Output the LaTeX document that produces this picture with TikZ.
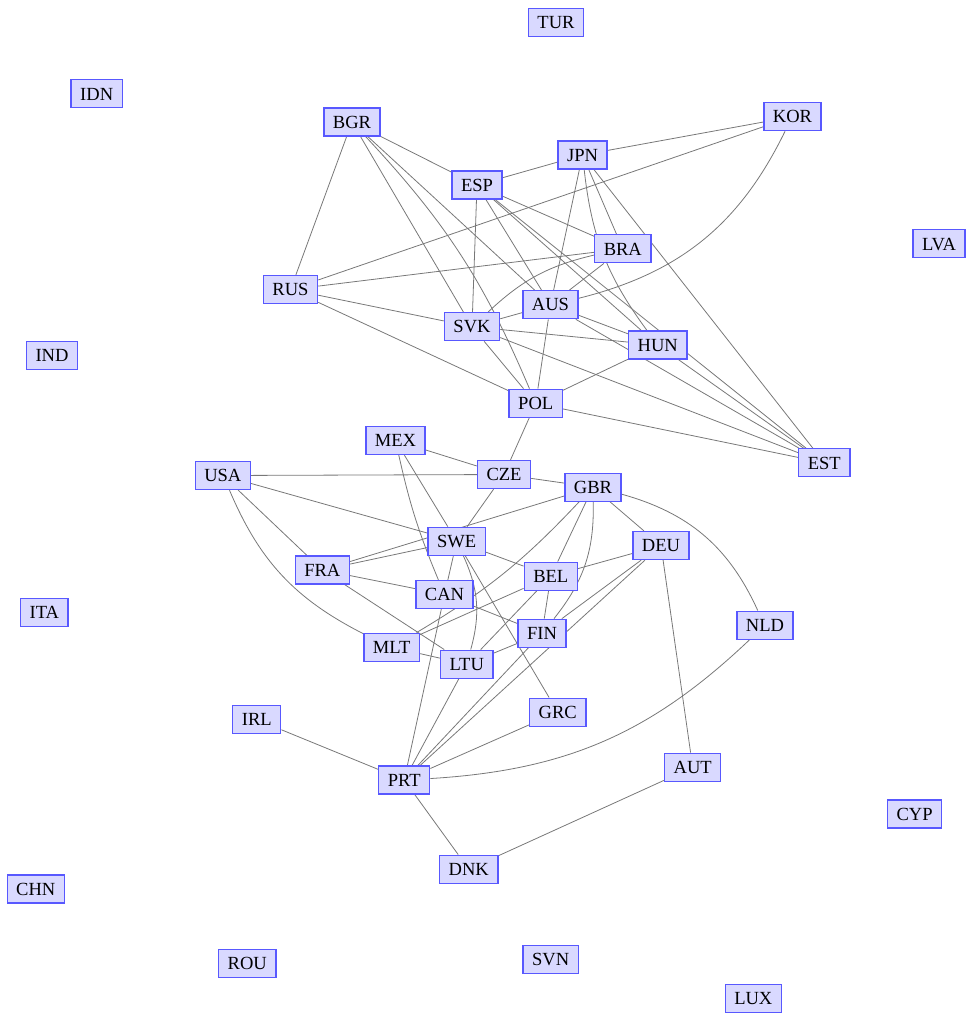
\documentclass[tikz,border=0pt]{standalone}
\usepackage{fontspec}
\setmainfont{Liberation Serif}
\definecolor{nodefill}{RGB}{217,217,255}
\definecolor{nodeline}{RGB}{88,88,255}
\definecolor{linkgray}{RGB}{120,120,120}
\newcommand{\cfont}{\fontsize{13.9pt}{16pt}\selectfont}
\pgfdeclarelayer{background}
\pgfsetlayers{background,main}
\tikzset{
  country/.style={draw=nodeline, fill=nodefill, line width=1pt, font=\cfont,
    inner xsep=6.8pt, inner ysep=0pt, minimum height=21pt,
    text height=9.3pt, text depth=0pt},
  link/.style={draw=linkgray, line width=0.6pt}
}
\begin{document}
\begin{tikzpicture}[x=0.75pt,y=0.75pt,yscale=-1,xscale=1]
        \useasboundingbox (0,0) rectangle (967,1015);
        % Text Node
        \draw (556,22.5) node [country] (tur) {TUR};
        % Text Node
        \draw (96.7,93.8) node [country] (idn) {IDN};
        % Text Node
        \draw (352,122) node [country] (bgr) {BGR};
        % Text Node
        \draw (792.5,116.7) node [country] (kor) {KOR};
        % Text Node
        \draw (582.5,155) node [country] (jpn) {JPN};
        % Text Node
        \draw (477,185) node [country] (esp) {ESP};
        % Text Node
        \draw (939,243.8) node [country] (lva) {LVA};
        % Text Node
        \draw (622.8,248.8) node [country] (bra) {BRA};
        % Text Node
        \draw (290.5,289.5) node [country] (rus) {RUS};
        % Text Node
        \draw (550.5,304.7) node [country] (aus) {AUS};
        % Text Node
        \draw (472,326.7) node [country] (svk) {SVK};
        % Text Node
        \draw (657.8,345) node [country] (hun) {HUN};
        % Text Node
        \draw (52,355.5) node [country] (ind) {IND};
        % Text Node
        \draw (535.7,403.3) node [country] (pol) {POL};
        % Text Node
        \draw (395.5,440.5) node [country] (mex) {MEX};
        % Text Node
        \draw (824.3,462.8) node [country] (est) {EST};
        % Text Node
        \draw (222.8,475.5) node [country] (usa) {USA};
        % Text Node
        \draw (504,474.5) node [country] (cze) {CZE};
        % Text Node
        \draw (593,487.2) node [country] (gbr) {GBR};
        % Text Node
        \draw (456.7,541.3) node [country] (swe) {SWE};
        % Text Node
        \draw (661,545.5) node [country] (deu) {DEU};
        % Text Node
        \draw (322.3,570) node [country] (fra) {FRA};
        % Text Node
        \draw (550.8,576.2) node [country] (bel) {BEL};
        % Text Node
        \draw (444.5,594.5) node [country] (can) {CAN};
        % Text Node
        \draw (44.3,612.2) node [country] (ita) {ITA};
        % Text Node
        \draw (765,625.2) node [country] (nld) {NLD};
        % Text Node
        \draw (542,633.3) node [country] (fin) {FIN};
        % Text Node
        \draw (391.7,647.2) node [country] (mlt) {MLT};
        % Text Node
        \draw (466.7,664.2) node [country] (ltu) {LTU};
        % Text Node
        \draw (557.8,712.2) node [country] (grc) {GRC};
        % Text Node
        \draw (256.8,719.7) node [country] (irl) {IRL};
        % Text Node
        \draw (692.7,767.3) node [country] (aut) {AUT};
        % Text Node
        \draw (404.2,780) node [country] (prt) {PRT};
        % Text Node
        \draw (914.6,814) node [country] (cyp) {CYP};
        % Text Node
        \draw (468.8,869.2) node [country] (dnk) {DNK};
        % Text Node
        \draw (35.8,889) node [country] (chn) {CHN};
        % Text Node
        \draw (247.3,963.5) node [country] (rou) {ROU};
        % Text Node
        \draw (550.7,959.2) node [country] (svn) {SVN};
        % Text Node
        \draw (753.3,998.5) node [country] (lux) {LUX};
        \begin{pgfonlayer}{background}
        % Connection
        \draw [link] (bgr) -- (rus) ;
        \draw [link] (bgr) -- (esp) ;
        \draw [link] (bgr) -- (svk) ;
        \draw [link] (bgr) to [bend right=10] (pol) ;
        \draw [link] (bgr) -- (aus) ;
        % Connection
        \draw [link] (jpn) -- (esp) ;
        \draw [link] (jpn) -- (kor) ;
        \draw [link] (jpn) -- (bra) ;
        \draw [link] (jpn) -- (aus) ;
        \draw [link] (jpn) to [bend left=15] (hun) ;
        \draw [link] (jpn) -- (est) ;
        % Connection
        \draw [link] (kor) -- (rus) ;
        \draw [link] (kor) to [bend right=25] (aus) ;
        % Connection
        \draw [link] (esp) -- (svk) ;
        \draw [link] (esp) -- (aus) ;
        \draw [link] (esp) -- (bra) ;
        \draw [link] (esp) -- (hun) ;
        \draw [link] (esp) -- (est) ;
        % Connection
        \draw [link] (rus) -- (bra) ;
        \draw [link] (rus) -- (svk) ;
        \draw [link] (rus) -- (pol) ;
        % Connection
        \draw [link] (bra) -- (aus) ;
        \draw [link] (svk) to [bend right=15] (bra) ;
        \draw [link] (svk) -- (aus) ;
        \draw [link] (svk) -- (hun) ;
        \draw [link] (svk) -- (est) ;
        \draw [link] (svk) -- (pol) ;
        % Connection
        \draw [link] (aus) -- (hun) ;
        \draw [link] (aus) -- (est) ;
        \draw [link] (aus) -- (pol) ;
        \draw [link] (hun) -- (pol) ;
        \draw [link] (hun) -- (est) ;
        \draw [link] (pol) -- (est) ;
        \draw [link] (pol) -- (cze) ;
        % Connection
        \draw [link] (mex) -- (cze) ;
        \draw [link] (mex) -- (swe) ;
        \draw [link] (mex) to [bend left=5] (can) ;
        % Connection
        \draw [link] (usa) -- (cze) ;
        \draw [link] (usa) -- (swe) ;
        \draw [link] (usa) -- (fra) ;
        \draw [link] (usa) to [bend left=20] (mlt) ;
        % Connection
        \draw [link] (cze) -- (gbr) ;
        \draw [link] (cze) -- (swe) ;
        % Connection
        \draw [link] (gbr) -- (fra) ;
        \draw [link] (gbr) -- (deu) ;
        \draw [link] (gbr) to [bend right=25] (nld) ;
        \draw [link] (gbr) -- (bel) ;
        \draw [link] (gbr) to [bend right=20] (fin) ;
        \draw [link] (mlt) to [bend left=8] (gbr) ;
        % Connection
        \draw [link] (swe) -- (fra) ;
        \draw [link] (swe) -- (can) ;
        \draw [link] (swe) -- (bel) ;
        \draw [link] (swe) to [bend right=20] (ltu) ;
        \draw [link] (swe) -- (grc) ;
        % Connection
        \draw [link] (fra) -- (can) ;
        \draw [link] (fra) -- (ltu) ;
        \draw [link] (can) -- (fin) ;
        \draw [link] (can) -- (prt) ;
        % Connection
        \draw [link] (mlt) -- (ltu) ;
        \draw [link] (mlt) -- (bel) ;
        \draw [link] (ltu) -- (fin) ;
        \draw [link] (ltu) -- (bel) ;
        \draw [link] (ltu) -- (prt) ;
        % Connection
        \draw [link] (bel) -- (deu) ;
        \draw [link] (bel) -- (fin) ;
        \draw [link] (deu) -- (fin) ;
        \draw [link] (deu) -- (prt) ;
        \draw [link] (deu) -- (aut) ;
        % Connection
        \draw [link] (fin) -- (prt) ;
        \draw [link] (grc) -- (prt) ;
        \draw [link] (nld) to [bend right=20] (prt) ;
        \draw [link] (irl) -- (prt) ;
        \draw [link] (prt) -- (dnk) ;
        \draw [link] (dnk) -- (aut) ;
        \end{pgfonlayer}
\end{tikzpicture}
\end{document}
